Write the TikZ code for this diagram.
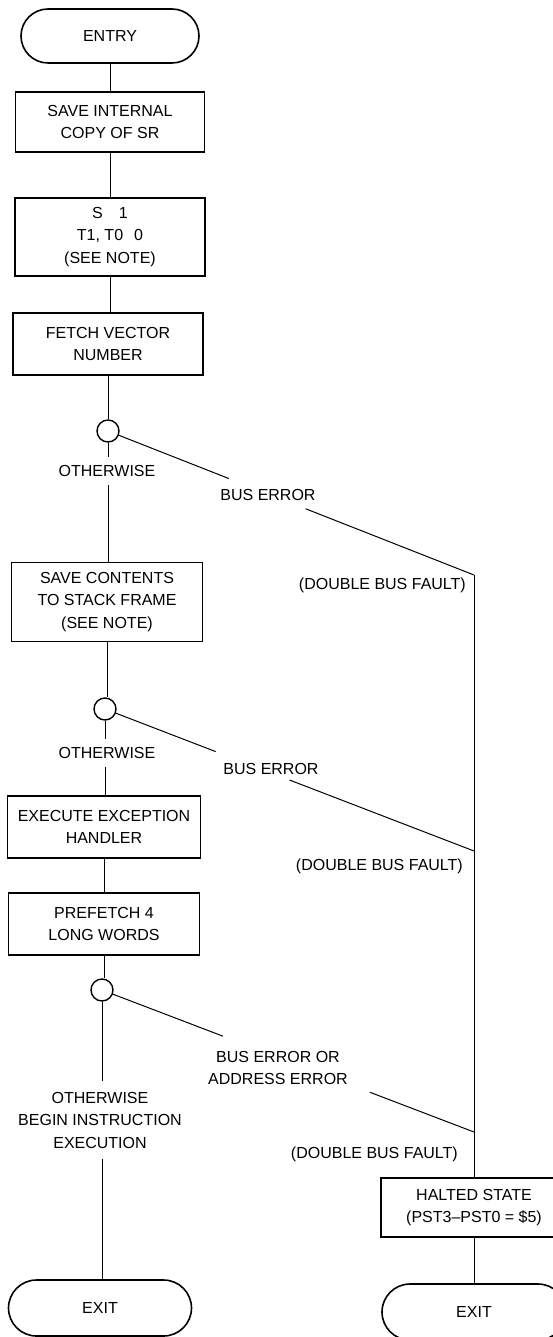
\documentclass[tikz,border=0pt]{standalone}
\usepackage{fontspec}
\setmainfont{Liberation Sans}
\usetikzlibrary{calc}
\begin{document}
\begin{tikzpicture}[x=1pt,y=-1pt,
  font=\fontsize{16}{22.5}\selectfont,
  proc/.style={draw, line width=1.6pt, align=center, inner sep=0pt},
  term/.style={draw, line width=1.6pt, align=center, inner sep=0pt, rounded corners=27pt},
  dec/.style={draw, circle, line width=1.4pt, minimum size=22pt, inner sep=0pt},
  conn/.style={line width=1pt},
  lbl/.style={fill=white, align=center, inner xsep=3pt, inner ysep=8pt},
  note/.style={align=center, inner sep=0pt}]
\useasboundingbox (0,0) rectangle (552,1337);
% main column
\node[term, minimum width=178pt, minimum height=54pt] (entry) at (110,36) {ENTRY};
\node[proc, minimum width=189pt, minimum height=60pt] (b1) at (110,122) {SAVE INTERNAL\\COPY OF SR};
\node[proc, minimum width=190pt, minimum height=78pt] (b2) at (110,237) {S\hspace{16pt}1\\T1, T0\hspace{11pt}0\\(SEE NOTE)};
\node[proc, minimum width=190pt, minimum height=62pt] (b3) at (108,344) {FETCH VECTOR\\NUMBER};
\node[dec] (c1) at (108,431) {};
\node[proc, minimum width=191pt, minimum height=79pt] (b4) at (107,602) {SAVE CONTENTS\\TO STACK FRAME\\(SEE NOTE)};
\node[dec] (c2) at (105,709) {};
\node[proc, minimum width=193pt, minimum height=62pt] (b5) at (104,827) {EXECUTE EXCEPTION\\HANDLER};
\node[proc, minimum width=191pt, minimum height=62pt] (b6) at (104,924) {PREFETCH 4\\LONG WORDS};
\node[dec] (c3) at (102,990) {};
\node[term, minimum width=183pt, minimum height=56pt, rounded corners=28pt] (exL) at (100,1308) {EXIT};
% right column
\coordinate (j1) at (474,575);
\coordinate (j2) at (474,851);
\coordinate (j3) at (474,1132);
\node[proc, minimum width=186pt, minimum height=59pt] (halt) at (474,1207.5) {HALTED STATE\\(PST3--PST0 = \$5)};
\node[term, minimum width=184pt, minimum height=56pt, rounded corners=28pt] (exR) at (474,1312) {EXIT};
% cut points of the slanted connectors
\coordinate (k1a) at ($(c1)!0.33!(j1)$);
\coordinate (k1b) at ($(c1)!0.54!(j1)$);
\coordinate (k2a) at ($(c2)!0.30!(j2)$);
\coordinate (k2b) at ($(c2)!0.50!(j2)$);
\coordinate (k3a) at ($(c3)!0.325!(j3)$);
\coordinate (k3b) at ($(c3)!0.72!(j3)$);
% connectors
\draw[conn] (entry) -- (b1);
\draw[conn] (b1) -- (b2);
\draw[conn] (b2.south) -- (b2.south |- b3.north);
\draw[conn] (b3) -- (c1);
\draw[conn] (c1.south) -- (c1.south |- b4.north);
\draw[conn] (b4.south) -- (b4.south |- c2.north);
\draw[conn] (c2.south) -- (c2.south |- b5.north);
\draw[conn] (b5) -- (b6);
\draw[conn] (b6.south) -- (b6.south |- c3.north);
\draw[conn] (c3.south) -- (c3.south |- exL.north);
\draw[conn] (c1) -- (k1a);
\draw[conn] (k1b) -- (j1);
\draw[conn] (c2) -- (k2a);
\draw[conn] (k2b) -- (j2);
\draw[conn] (c3) -- (k3a);
\draw[conn] (k3b) -- (j3);
\draw[conn] (j1) -- (halt.north);
\draw[conn] (halt) -- (exR);
% labels
\node[lbl] (o1) at (107,471) {OTHERWISE};
\node[note] (e1) at (268,495) {BUS ERROR};
\node[note, anchor=east] (d1) at (466,585) {(DOUBLE BUS FAULT)};
\node[lbl] (o2) at (107,753) {OTHERWISE};
\node[note] (e2) at (271,769) {BUS ERROR};
\node[note, anchor=east] (d2) at (463,866) {(DOUBLE BUS FAULT)};
\node[note] (e3) at (278,1068) {BUS ERROR OR\\ADDRESS ERROR};
\node[lbl, inner ysep=11pt] (o3) at (100,1120) {OTHERWISE\\BEGIN INSTRUCTION\\EXECUTION};
\node[note, anchor=east] (d3) at (458,1154) {(DOUBLE BUS FAULT)};
\end{tikzpicture}
\end{document}
